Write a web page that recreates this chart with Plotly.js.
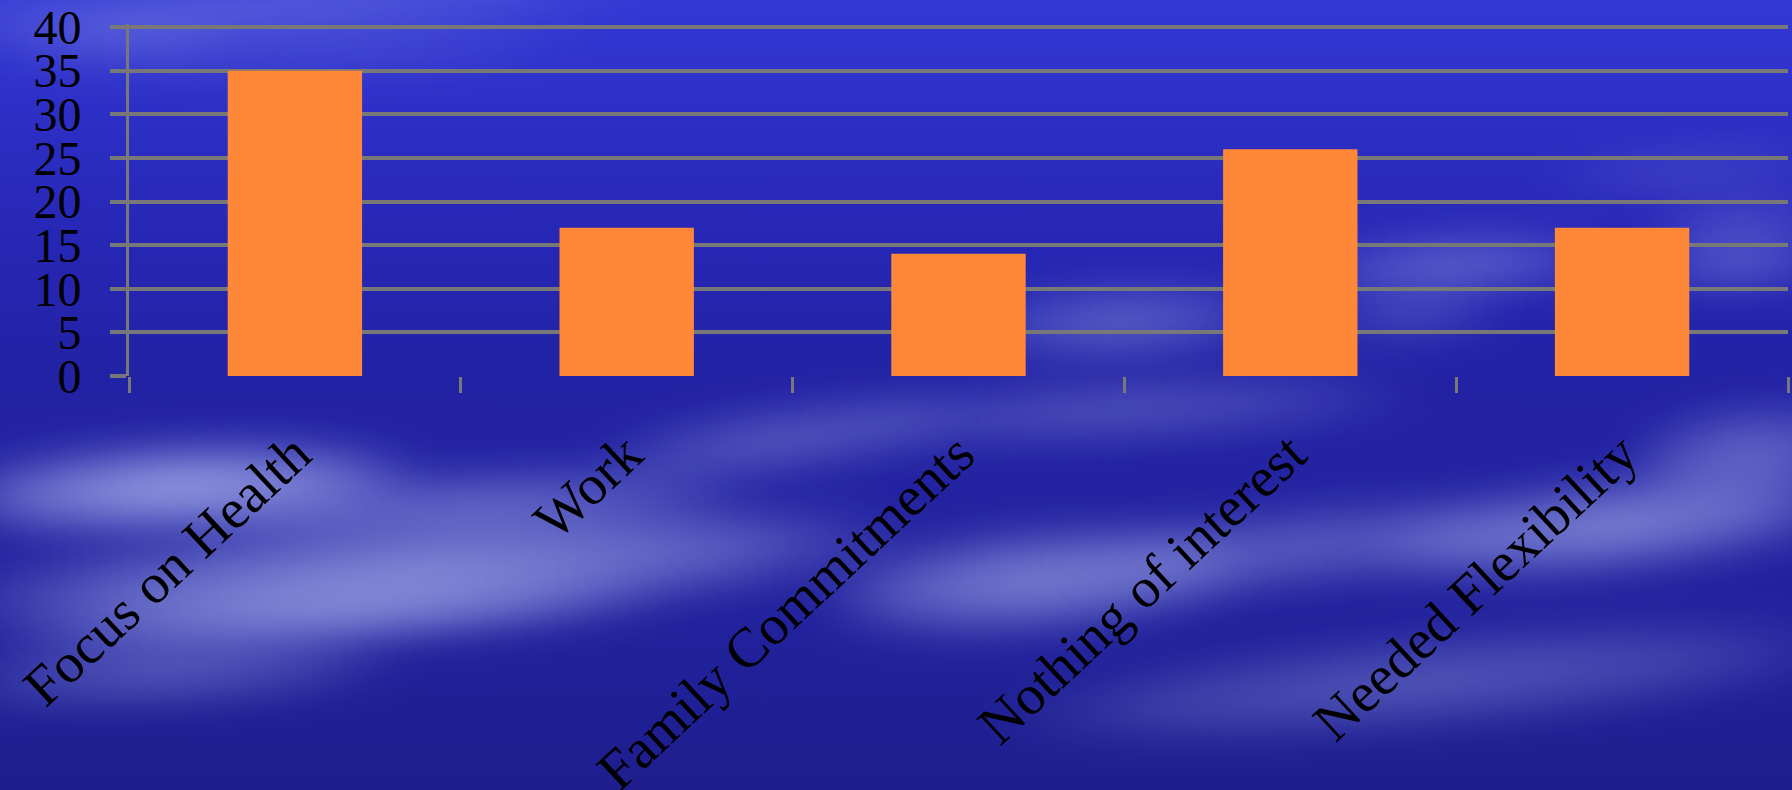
<!DOCTYPE html>
<html>
<head>
<meta charset="utf-8">
<script src="https://cdn.plot.ly/plotly-3.0.1.min.js"></script>
<style>
  html, body { margin: 0; padding: 0; width: 1792px; height: 790px; overflow: hidden; }
  #sky {
    position: absolute; left: 0; top: 0; width: 1792px; height: 790px; overflow: hidden;
    background: linear-gradient(180deg, #3338d4 0%, #2c2ec4 16%, #2626b4 32%, #2222a4 48%, #2323a2 62%, #21219c 80%, #1e1e8e 100%);
  }
  .cloud { position: absolute; border-radius: 50%; filter: blur(20px); }
  #chart { position: absolute; left: 0; top: 0; width: 1792px; height: 790px; }
</style>
</head>
<body>
<div id="sky"></div>
<div id="chart"></div>
<script>
// Reasons given for not taking part
const categories = ["Focus on Health", "Work", "Family Commitments", "Nothing of interest", "Needed Flexibility"];
const counts = [35, 17, 14, 26, 17];
const yTickValues = [0, 5, 10, 15, 20, 25, 30, 35, 40];

// Soft cloud streaks painted behind the chart: [cx, cy, w, h, rotation, alpha]
const clouds = [
  [260, 8, 800, 44, -3, 0.4],
  [330, 52, 520, 28, -2, 0.28],
  [120, 40, 260, 36, -3, 0.3],
  [1690, 170, 300, 34, -4, 0.25],
  [1455, 265, 320, 56, -3, 0.48],
  [1740, 262, 200, 50, -3, 0.42],
  [1740, 222, 200, 36, -5, 0.34],
  [1120, 322, 320, 72, -3, 0.42],
  [1410, 316, 190, 36, -3, 0.34],
  [1120, 410, 620, 52, -3, 0.4],
  [1750, 455, 260, 100, -6, 0.45],
  [180, 488, 500, 90, -3, 0.85],
  [470, 505, 580, 62, -3, 0.5],
  [780, 440, 400, 60, -8, 0.42],
  [420, 570, 1000, 110, -4, 0.65],
  [330, 612, 700, 62, -4, 0.62],
  [170, 672, 480, 60, -3, 0.42],
  [1040, 580, 460, 105, -5, 0.62],
  [1300, 548, 480, 78, -6, 0.42],
  [1610, 526, 520, 92, -6, 0.66],
  [1430, 682, 880, 92, -5, 0.36]
];
const sky = document.getElementById('sky');
clouds.forEach(([cx, cy, w, h, rot, a]) => {
  const d = document.createElement('div');
  d.className = 'cloud';
  d.style.left = (cx - w / 2) + 'px';
  d.style.top = (cy - h / 2) + 'px';
  d.style.width = w + 'px';
  d.style.height = h + 'px';
  d.style.transform = 'rotate(' + rot + 'deg)';
  d.style.background = 'radial-gradient(ellipse at center, rgba(185,195,245,' + a + ') 0%, rgba(170,180,240,' + (a * 0.65) + ') 45%, rgba(160,170,235,0) 72%)';
  sky.appendChild(d);
});

const gridGray = '#787878';
const serif = 'Liberation Serif, Times New Roman, serif';

const trace = {
  type: 'bar',
  x: categories,
  y: counts,
  marker: { color: '#ff8838', line: { width: 0 } },
  hoverinfo: 'x+y'
};

const layout = {
  width: 1792,
  height: 790,
  margin: { l: 129, r: 4, t: 24, b: 414 },
  paper_bgcolor: 'rgba(0,0,0,0)',
  plot_bgcolor: 'rgba(0,0,0,0)',
  showlegend: false,
  bargap: 0.595,
  xaxis: {
    type: 'category',
    automargin: false,
    tickangle: -43,
    tickson: 'boundaries',
    ticks: 'outside',
    ticklen: 16,
    tickwidth: 3,
    tickcolor: gridGray,
    showline: false,
    showgrid: false,
    zeroline: false,
    ticklabelstandoff: 33,
    tickfont: { family: serif, size: 56, color: '#000000' }
  },
  yaxis: {
    range: [0, 40.344],
    automargin: false,
    tickvals: yTickValues,
    ticktext: yTickValues.map(String),
    ticklabeloverflow: 'allow',
    ticks: 'outside',
    ticklen: 16,
    tickwidth: 4,
    tickcolor: gridGray,
    showgrid: true,
    gridcolor: gridGray,
    gridwidth: 4,
    showline: true,
    linecolor: gridGray,
    linewidth: 3,
    zeroline: false,
    ticklabelstandoff: 19,
    tickfont: { family: serif, size: 48, color: '#000000' }
  }
};

Plotly.newPlot('chart', [trace], layout, { displayModeBar: false, staticPlot: true });
</script>
</body>
</html>
